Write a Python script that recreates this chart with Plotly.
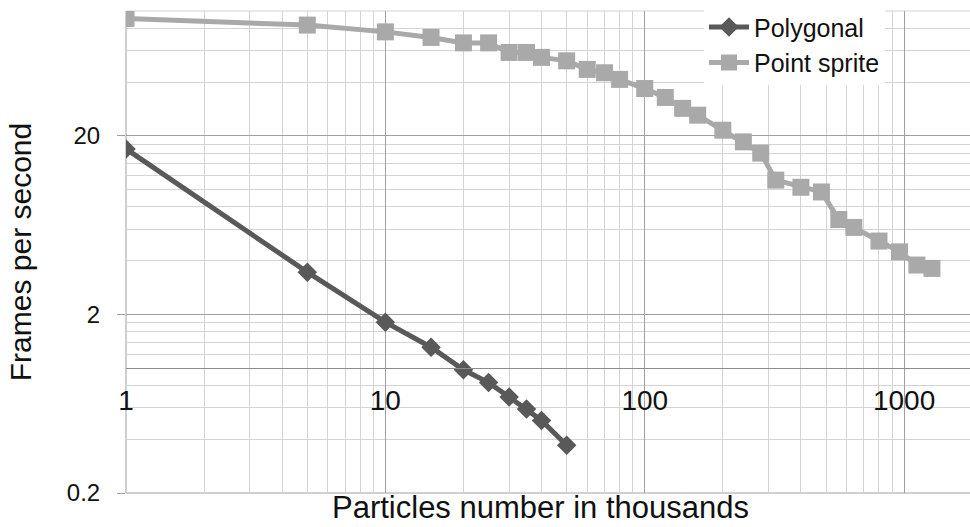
import math
import plotly.graph_objects as go

# ---- data ----
poly_x = [1, 5, 10, 15, 20, 25, 30, 35, 40, 50]
poly_y = [16.9, 3.45, 1.81, 1.31, 0.98, 0.83, 0.69, 0.59, 0.51, 0.37]

sprite_x = [1, 5, 10, 15, 20, 25, 30, 35, 40, 50, 60, 70, 80, 100, 120, 140, 160,
            200, 240, 280, 320, 400, 480, 560, 640, 800, 960, 1120, 1280]
sprite_y = [90.8, 83.4, 76.4, 71.1, 66.3, 66.3, 58.6, 58.6, 55.0, 52.6, 47.1, 45.1,
            41.4, 36.8, 32.8, 28.5, 26.1, 21.5, 18.5, 16.0, 11.3, 10.3, 9.7, 6.8,
            6.14, 5.15, 4.48, 3.78, 3.62]

x_major = [1, 10, 100, 1000]
x_major_text = ["1", "10", "100", "1000"]
y_major = [0.2, 2, 20]
y_major_text = ["0.2", "2", "20"]

x_minor = [m * d for d in (1, 10, 100, 1000) for m in range(2, 10)]
y_minor = [round(m * d, 6) for d in (0.2, 2, 20) for m in range(2, 10)]

x_range = [0, 3.254]
y_range = [math.log10(0.2), 2]
FONT = "Liberation Sans, Arial, sans-serif"
MAJOR = "#a0a0a0"
MINOR = "#d4d4d4"

fig = go.Figure()
fig.add_trace(go.Scatter(
    x=poly_x, y=poly_y, name="Polygonal", mode="lines+markers",
    line=dict(color="#595959", width=5),
    marker=dict(symbol="diamond", size=15, color="#595959"),
))
fig.add_trace(go.Scatter(
    x=sprite_x, y=sprite_y, name="Point sprite", mode="lines+markers",
    line=dict(color="#a9a9a9", width=5),
    marker=dict(symbol="square", size=17, color="#a9a9a9"),
))

cross_pos = (0 - y_range[0]) / (y_range[1] - y_range[0])

fig.update_layout(
    width=970, height=527,
    margin=dict(l=126, r=0, t=11, b=34, autoexpand=False),
    paper_bgcolor="white", plot_bgcolor="white",
    font=dict(family=FONT, color="#111111"),
    showlegend=True,
    legend=dict(
        x=(704 - 126) / 844, y=1.014, xanchor="left", yanchor="top",
        bgcolor="white", font=dict(size=25, family=FONT, color="#111111"),
        itemwidth=40, tracegroupgap=0,
    ),
    xaxis=dict(
        type="log", range=x_range, automargin=False,
        anchor="free", position=cross_pos,
        tickmode="array", tickvals=x_major, ticktext=x_major_text,
        tickfont=dict(size=28, family=FONT, color="#111111"),
        ticks="", ticklabelstandoff=7,
        showline=True, linecolor="#8c8c8c", linewidth=1,
        showgrid=True, gridcolor=MAJOR, gridwidth=1,
        zeroline=False,
        minor=dict(tickvals=x_minor, showgrid=True, gridcolor=MINOR, gridwidth=1, ticks=""),
    ),
    yaxis=dict(
        type="log", range=y_range, automargin=False,
        tickmode="array", tickvals=y_major, ticktext=y_major_text,
        tickfont=dict(size=24, family=FONT, color="#111111"),
        ticks="outside", ticklen=8, tickcolor=MAJOR, ticklabelstandoff=12,
        showline=False,
        showgrid=True, gridcolor=MAJOR, gridwidth=1,
        zeroline=False,
        minor=dict(tickvals=y_minor, showgrid=True, gridcolor=MINOR, gridwidth=1, ticks=""),
        title=dict(text="Frames per second", font=dict(size=30, family=FONT, color="#111111"),
                   standoff=26),
    ),
    shapes=[
        dict(type="line", xref="paper", yref="paper", x0=0, x1=1, y0=0, y1=0,
             line=dict(color=MAJOR, width=1), layer="below"),
        dict(type="line", xref="paper", yref="paper", x0=0, x1=1, y0=1, y1=1,
             line=dict(color=MINOR, width=1), layer="below"),
        dict(type="line", xref="paper", yref="paper", x0=0, x1=0, y0=0, y1=1,
             line=dict(color=MAJOR, width=1), layer="below"),
    ],
    annotations=[dict(
        text="Particles number in thousands", xref="paper", yref="paper",
        x=(540 - 126) / 844, y=-0.031, xanchor="center", yanchor="middle",
        showarrow=False, font=dict(size=31, family=FONT, color="#111111"),
    )],
)

fig.write_html("out.html", config={"displayModeBar": False},
               post_script="document.body.style.margin='0';")
